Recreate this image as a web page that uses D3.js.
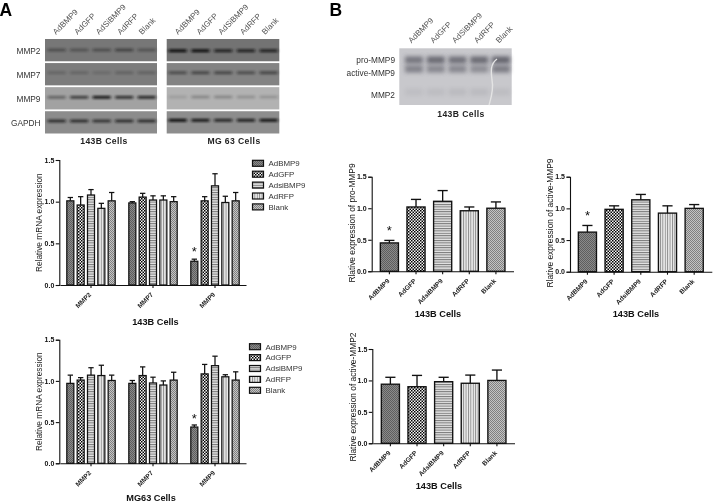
<!DOCTYPE html>
<html><head><meta charset="utf-8">
<script src="https://cdnjs.cloudflare.com/ajax/libs/d3/7.8.5/d3.min.js"></script>
<style>
html,body{margin:0;padding:0;background:#fff}
svg{display:block;filter:blur(0.45px)}
text{font-family:"Liberation Sans",Arial,sans-serif}
</style></head><body>
<svg id="c" width="715" height="504"></svg>
<script>
// ---------- data ----------
const treatments143 = ["AdBMP9","AdGFP","AdsiBMP9","AdRFP","Blank"];
const treatmentsMG = ["AdBMP9","AdGFP","AdsiBMP9","AdRFP","Blank"];
const lanesBlot = ["AdBMP9","AdGFP","AdSiBMP9","AdRFP","Blank"];
const genes = ["MMP2","MMP7","MMP9"];
const yTicks = [0,0.5,1.0,1.5];

const mrna143B = [[1.01,0.96,1.08,0.92,1.01],[0.985,1.055,1.02,1.02,1.0],[0.285,1.01,1.19,0.99,1.01]];
const mrna143BTop = [[1.05,1.06,1.145,0.98,1.11],[1.0,1.10,1.07,1.07,1.06],[0.31,1.06,1.335,1.065,1.11]];
const mrnaMG63 = [[0.97,1.01,1.07,1.065,1.005],[0.97,1.065,0.975,0.95,1.01],[0.44,1.085,1.185,1.05,1.01]];
const mrnaMG63Top = [[1.07,1.04,1.16,1.19,1.07],[1.005,1.17,1.045,1.0,1.105],[0.465,1.2,1.3,1.075,1.11]];

const proMMP9 = [0.45,1.02,1.11,0.96,1.0];
const proMMP9Top = [0.49,1.14,1.28,1.02,1.10];
const activeMMP9 = [0.625,0.985,1.135,0.925,1.0];
const activeMMP9Top = [0.73,1.04,1.22,1.04,1.06];
const activeMMP2 = [0.94,0.90,0.98,0.955,1.0];
const activeMMP2Top = [1.05,1.08,1.05,1.085,1.165];

const blotRows = ["MMP2","MMP7","MMP9","GAPDH"];
const blotBg143 = ["#777777","#7c7c7c","#a2a2a2","#8c8c8c"];
const blotBgMG = ["#737373","#838383","#b2b2b2","#8d8d8d"];
const bands143 = [[.4,.35,.4,.5,.35],[.2,.2,.15,.22,.22],[.4,.65,.9,.75,.8],[.75,.75,.7,.75,.75]];
const bandsMG = [[1,1,.8,.8,.8],[.45,.5,.5,.45,.5],[.12,.25,.25,.2,.18],[1,.9,.8,.85,.95]];
const zymoRows = ["pro-MMP9","active-MMP9","MMP2"];
const zymoBands = [[.7,.8,.75,.8,.85],[.6,.55,.55,.5,.65],[.08,.09,.11,.11,.09]];

// ---------- canvas & patterns ----------
const svg = d3.select("#c");
const defs = svg.append("defs");
defs.append("filter").attr("id","b1").attr("x","-20%").attr("y","-100%").attr("width","140%").attr("height","300%")
  .append("feGaussianBlur").attr("stdDeviation","1.5 0.9");
defs.append("filter").attr("id","b2").attr("x","-30%").attr("y","-100%").attr("width","160%").attr("height","300%")
  .append("feGaussianBlur").attr("stdDeviation","2.2 2.2");

function pat(id,w,h,bg,draw){
  const p = defs.append("pattern").attr("id",id).attr("patternUnits","userSpaceOnUse").attr("width",w).attr("height",h);
  p.append("rect").attr("width",w).attr("height",h).attr("fill",bg);
  draw(p);
}
const sq=(p,x,y,s,f)=>p.append("rect").attr("x",x).attr("y",y).attr("width",s).attr("height",s).attr("fill",f);
pat("pDark",2,2,"#8a8a8a",p=>{sq(p,0,0,1,"#5e5e5e");sq(p,1,1,1,"#5e5e5e");});
pat("pCheck",3,3,"#f6f6f6",p=>{sq(p,0,0,1.5,"#000");sq(p,1.5,1.5,1.5,"#000");});
pat("pH",3,2.4,"#e4e4e4",p=>p.append("rect").attr("width",3).attr("height",1).attr("fill","#777"));
pat("pV",2.4,3,"#ececec",p=>p.append("rect").attr("width",.9).attr("height",3).attr("fill","#888"));
pat("pLight",2,2,"#c4c4c4",p=>{sq(p,0,0,1,"#808080");sq(p,1,1,1,"#808080");});
const fills = ["url(#pDark)","url(#pCheck)","url(#pH)","url(#pV)","url(#pLight)"];

// ---------- generic helpers ----------
function label(x,y,t,o={}){
  return svg.append("text").attr("x",x).attr("y",y).text(t)
    .attr("font-size",o.size||8).attr("font-weight",o.bold?"bold":"normal")
    .attr("text-anchor",o.anchor||"middle").attr("fill",o.fill||"#222")
    .attr("letter-spacing",o.ls||0)
    .attr("transform",o.rot!==undefined?`rotate(${o.rot} ${x} ${y})`:null);
}
function yAxis(g,y,x0){
  const a = g.append("g").attr("transform",`translate(${x0},0)`)
    .call(d3.axisLeft(y).tickValues(yTicks).tickFormat(d3.format(".1f")).tickSize(3.5).tickPadding(1.5));
  a.selectAll("path,line").attr("stroke","#111").attr("stroke-width",1.1);
  a.selectAll("text").attr("font-size",7).attr("font-weight","bold").attr("fill","#111")
    .style("font-family",'"Liberation Sans",Arial,sans-serif');
}
function xAxis(g,x,y0,size){
  const a = g.append("g").attr("transform",`translate(0,${y0})`)
    .call(d3.axisBottom(x).tickSize(3).tickSizeOuter(0));
  a.selectAll("path,line").attr("stroke","#111").attr("stroke-width",1.1);
  a.selectAll("text").attr("font-size",size).attr("font-weight","bold").attr("fill","#222")
    .style("font-family",'"Liberation Sans",Arial,sans-serif')
    .attr("text-anchor","end").attr("x",0).attr("y",0).attr("dy","0.35em")
    .attr("transform","translate(-1,8.5) rotate(-45)");
}
function bar(g,cx,w,y,v,top,i,sw,capR){
  const y0=y(0);
  g.append("line").attr("x1",cx).attr("x2",cx).attr("y1",y(v)).attr("y2",y(top)).attr("stroke","#111").attr("stroke-width",sw);
  g.append("line").attr("x1",cx-w*capR).attr("x2",cx+w*capR).attr("y1",y(top)).attr("y2",y(top)).attr("stroke","#111").attr("stroke-width",sw);
  g.append("rect").attr("x",cx-w/2).attr("y",y(v)).attr("width",w).attr("height",y0-y(v))
    .attr("fill",fills[i]).attr("stroke","#111").attr("stroke-width",sw);
}
function grouped(cfg){
  const g=svg.append("g");
  const y=d3.scaleLinear().domain([0,1.5]).range([cfg.y0,cfg.y1]);
  const x0=d3.scaleBand().domain(genes).range(cfg.xr);
  const x1=d3.scaleBand().domain(cfg.names).range([-27.5,27.5]).padding(0.32);
  genes.forEach((gn,gi)=>cfg.names.forEach((n,i)=>{
    const cx=x0(gn)+x0.bandwidth()/2+x1(n)+x1.bandwidth()/2;
    bar(g,cx,x1.bandwidth(),y,cfg.vals[gi][i],cfg.tops[gi][i],i,1.25,.38);
    if(cfg.star===`${gn}-${n}`) label(cx,y(cfg.tops[gi][i])-cfg.starOff,"*",{size:13,fill:"#111"});
  }));
  yAxis(g,y,cfg.ax); xAxis(g,x0,cfg.y0,6.6);
  label(cfg.tx,cfg.ty,"Relative mRNA expression",{size:8.3,rot:-90});
  label(cfg.cx,cfg.cy,cfg.caption,{size:9.2,bold:true,fill:"#111"});
  cfg.names.forEach((n,i)=>{
    const ly=cfg.ly+i*10.9;
    g.append("rect").attr("x",cfg.lx).attr("y",ly-3).attr("width",11).attr("height",6)
      .attr("fill",fills[i]).attr("stroke","#111").attr("stroke-width",1.2);
    label(cfg.lx+16,ly+2.8,cfg.legend[i],{size:7.9,anchor:"start",fill:"#333"});
  });
}
function single(cfg){
  const g=svg.append("g");
  const y=d3.scaleLinear().domain([0,1.5]).range([cfg.y0,cfg.y1]);
  const x=d3.scaleBand().domain(treatments143).range(cfg.xr).padding(0.32);
  treatments143.forEach((n,i)=>{
    bar(g,x(n)+x.bandwidth()/2,x.bandwidth(),y,cfg.vals[i],cfg.tops[i],i,1.35,.28);
    if(cfg.star===n) label(x(n)+x.bandwidth()/2,y(cfg.tops[i])-5,"*",{size:13,fill:"#111"});
  });
  yAxis(g,y,cfg.ax); xAxis(g,x,cfg.y0,6.6);
  label(cfg.tx,cfg.ty,cfg.title,{size:8.4,rot:-90,fill:"#111"});
  label(cfg.cx,cfg.cy,"143B Cells",{size:9.2,bold:true,fill:"#111"});
}
function blot(x0,x1,bgs,bands,lanes,bandY){
  const rowY=d3.scaleBand().domain(blotRows).range([39,133.5]).paddingInner(0.075);
  const lane=d3.scalePoint().domain(lanesBlot).range(lanes);
  blotRows.forEach((r,ri)=>{
    const g=svg.append("g");
    g.append("rect").attr("x",x0).attr("y",rowY(r)).attr("width",x1-x0).attr("height",rowY.bandwidth()).attr("fill",bgs[ri]);
    lanesBlot.forEach((l,i)=>{
      g.append("rect").attr("x",lane(l)-9).attr("y",bandY[ri]-1.5).attr("width",18).attr("height",3)
        .attr("fill","#111").attr("opacity",bands[ri][i]).attr("filter","url(#b1)");
    });
  });
}

// ---------- panel A blots ----------
label(-0.5,15.5,"A",{size:17.5,bold:true,anchor:"start",fill:"#000"});
label(329.5,15.5,"B",{size:17.5,bold:true,anchor:"start",fill:"#000"});
blot(45,157,blotBg143,bands143,[56.7,146.7],[50,72.7,97.3,121]);
blot(166.7,279.3,blotBgMG,bandsMG,[177.7,268.7],[50.7,72.7,97,120.3]);
const rowLabelY=[53.5,78,101.5,125.5];
blotRows.forEach((r,i)=>label(40.5,rowLabelY[i],r,{size:8.3,anchor:"end",fill:"#333"}));
const xLanesA=d3.scalePoint().domain(lanesBlot).range([56,142]);
const xLanesB=d3.scalePoint().domain(lanesBlot).range([178,265]);
lanesBlot.forEach(l=>{
  label(xLanesA(l),35,l,{size:8,anchor:"start",rot:-45,fill:"#555"});
  label(xLanesB(l),35,l,{size:8,anchor:"start",rot:-45,fill:"#555"});
});
label(104,144,"143B  Cells",{size:8.6,bold:true,ls:.4});
label(234,144,"MG 63  Cells",{size:8.6,bold:true,ls:.4});

// ---------- panel A charts ----------
grouped({names:treatments143,legend:["AdBMP9","AdGFP","AdsiBMP9","AdRFP","Blank"],vals:mrna143B,tops:mrna143BTop,
  y0:285,y1:160,xr:[60,246],ax:59.3,tx:42.5,ty:222.7,cx:155.5,cy:325,caption:"143B Cells",lx:252.5,ly:163.3,star:"MMP9-AdBMP9",starOff:3});
grouped({names:treatmentsMG,legend:["AdBMP9","AdGFP","AdsiBMP9","AdRFP","Blank"],vals:mrnaMG63,tops:mrnaMG63Top,
  y0:463.3,y1:339.7,xr:[60,246],ax:59.3,tx:42.5,ty:401.7,cx:151,cy:501,caption:"MG63 Cells",lx:249.5,ly:346.7,star:"MMP9-AdBMP9",starOff:2});

// ---------- panel B zymogram ----------
svg.append("rect").attr("x",399.3).attr("y",48.3).attr("width",112.4).attr("height",56.7).attr("fill","#c8c8cc");
const zLane=d3.scalePoint().domain(lanesBlot).range([414,501]);
const zY=[60,69,92];
zymoRows.forEach((r,ri)=>lanesBlot.forEach((l,i)=>{
  svg.append("rect").attr("x",zLane(l)-9).attr("y",zY[ri]-3.5).attr("width",18).attr("height",7)
    .attr("fill","#50505a").attr("opacity",zymoBands[ri][i]).attr("filter","url(#b2)");
}));
svg.append("path").attr("d","M497 59 C490 64 491 72 492 80 C494 90 491 98 489 105")
  .attr("fill","none").attr("stroke","#e4e4e4").attr("stroke-width",1.4);
const zLabelY=[63,75.5,98];
zymoRows.forEach((r,i)=>label(395,zLabelY[i],r,{size:8.3,anchor:"end",fill:"#333"}));
const zText=d3.scalePoint().domain(lanesBlot).range([411.5,499]);
lanesBlot.forEach(l=>label(zText(l),43.5,l,{size:8,anchor:"start",rot:-45,fill:"#555"}));
label(461,117,"143B  Cells",{size:8.6,bold:true,ls:.4});

// ---------- panel B charts ----------
single({vals:proMMP9,tops:proMMP9Top,y0:271.3,y1:176.7,xr:[371.8,513.5],ax:371.7,tx:354.5,ty:223,cx:438,cy:317,
  title:"Rlative expression of pro-MMP9",star:"AdBMP9"});
single({vals:activeMMP9,tops:activeMMP9Top,y0:271.7,y1:176.7,xr:[569.8,711.8],ax:570,tx:552.5,ty:223,cx:636,cy:317,
  title:"Rlative expression of active-MMP9",star:"AdBMP9"});
single({vals:activeMMP2,tops:activeMMP2Top,y0:443.3,y1:349,xr:[372.8,514.5],ax:372.3,tx:355.5,ty:397,cx:439,cy:488.5,
  title:"Rlative expression of active-MMP2"});
</script>
</body></html>
